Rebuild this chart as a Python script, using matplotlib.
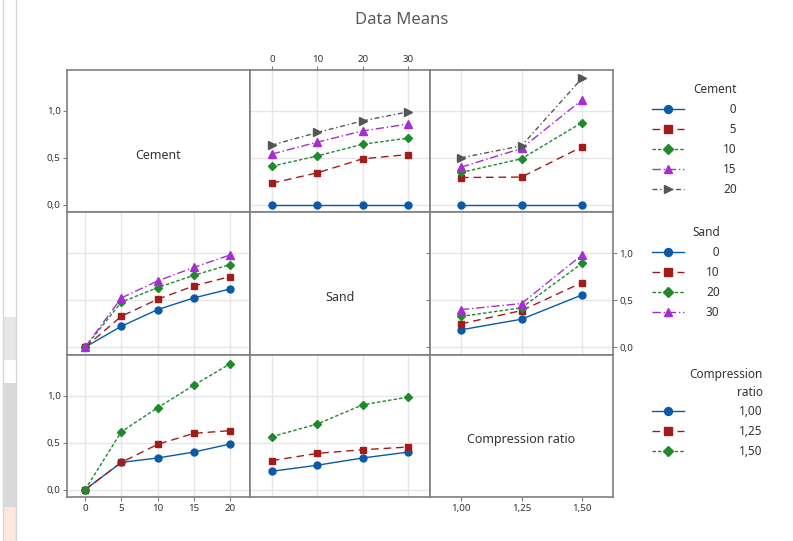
import matplotlib
matplotlib.use('Agg')
import matplotlib.pyplot as plt
from matplotlib.lines import Line2D
from matplotlib.patches import Rectangle
from matplotlib.transforms import blended_transform_factory

plt.rcParams['font.family'] = ['Noto Sans', 'DejaVu Sans']

# factor levels
cement_levels = [0, 5, 10, 15, 20]
sand_levels = [0, 10, 20, 30]
ratio_levels = [1.00, 1.25, 1.50]

cement_ticklabels = ['0', '5', '10', '15', '20']
sand_ticklabels = ['0', '10', '20', '30']
ratio_ticklabels = ['1,00', '1,25', '1,50']

# data means: one row per trace level, one column per x level
cement_by_sand = [
    [0.0, 0.0, 0.0, 0.0],
    [0.23, 0.34, 0.49, 0.535],
    [0.41, 0.52, 0.645, 0.71],
    [0.54, 0.667, 0.787, 0.86],
    [0.635, 0.77, 0.894, 0.99],
]
cement_by_ratio = [
    [0.0, 0.0, 0.0],
    [0.29, 0.295, 0.617],
    [0.344, 0.49, 0.876],
    [0.40, 0.60, 1.117],
    [0.50, 0.628, 1.348],
]
sand_by_cement = [
    [0.0, 0.223, 0.40, 0.525, 0.62],
    [0.0, 0.33, 0.51, 0.653, 0.752],
    [0.0, 0.48, 0.635, 0.766, 0.88],
    [0.0, 0.525, 0.706, 0.85, 0.983],
]
sand_by_ratio = [
    [0.185, 0.298, 0.557],
    [0.249, 0.39, 0.688],
    [0.327, 0.42, 0.894],
    [0.40, 0.465, 0.983],
]
ratio_by_cement = [
    [0.0, 0.29, 0.337, 0.40, 0.486],
    [0.0, 0.29, 0.482, 0.60, 0.628],
    [0.0, 0.617, 0.872, 1.113, 1.34],
]
ratio_by_sand = [
    [0.195, 0.26, 0.337, 0.40],
    [0.309, 0.386, 0.425, 0.454],
    [0.564, 0.699, 0.904, 0.986],
]

factor_names = ['Cement', 'Sand', 'Compression ratio']
levels = [cement_levels, sand_levels, ratio_levels]
ticklabels = [cement_ticklabels, sand_ticklabels, ratio_ticklabels]
panels = {
    (0, 1): cement_by_sand, (0, 2): cement_by_ratio,
    (1, 0): sand_by_cement, (1, 2): sand_by_ratio,
    (2, 0): ratio_by_cement, (2, 1): ratio_by_sand,
}

# minitab-ish line styles for trace levels
COLORS = ['#0B5AA8', '#A31C1C', '#1F8A2C', '#A52ED0', '#555555']
MARKERS = ['o', 's', 'D', '^', '>']
MSIZES = [5, 5, 4.3, 5.5, 5.5]
DASHES = ['-', (0, (5.5, 3.5)), (0, (2.5, 1.5)), (0, (6, 2, 1, 2)),
          (0, (3.5, 2, 1, 2))]

XLIMS = [(-2.5, 22.75), (-4.8, 34.8), (0.872, 1.628)]
YLIM = (-0.082, 1.436)
EDGE = '#7F7F7F'
TXT = '#333333'

W, H = 793, 541
fig = plt.figure(figsize=(W / 100, H / 100), dpi=100)
gs = fig.add_gridspec(3, 3, left=67 / W, right=613 / W, top=1 - 70 / H,
                      bottom=1 - 497.3 / H, wspace=0, hspace=0,
                      width_ratios=[183, 180, 183])

def style_axis(ax, col, diag):
    ax.set_xlim(*XLIMS[col])
    ax.set_ylim(*YLIM)
    ax.set_xticks(levels[col], labels=ticklabels[col])
    ax.set_yticks([0, 0.5, 1.0], labels=['0,0', '0,5', '1,0'])
    ax.tick_params(which='both', length=0, labelbottom=False, labelleft=False,
                   labelsize=7, labelcolor=TXT, color=EDGE, pad=1.5)
    for sp in ax.spines.values():
        sp.set_color(EDGE)
        sp.set_linewidth(1.2)
    if not diag:
        ax.grid(True, color='#E6E6E6', lw=1)
        ax.set_axisbelow(True)

axes = {}
for r in range(3):
    for c in range(3):
        ax = fig.add_subplot(gs[r, c])
        axes[(r, c)] = ax
        style_axis(ax, c, r == c)
        if r == c:
            tr = blended_transform_factory(ax.transAxes, ax.transData)
            ax.text(0.5, 0.53, factor_names[r], transform=tr,
                    ha='center', va='center', fontsize=9, color=TXT)
            continue
        xs = levels[c]
        for i, ys in enumerate(panels[(r, c)]):
            ax.plot(xs, ys, color=COLORS[i], ls=DASHES[i], lw=1,
                    marker=MARKERS[i], ms=MSIZES[i], mec=COLORS[i])

# tick labels alternate around the matrix
axes[(0, 0)].tick_params(axis='y', left=True, labelleft=True, length=3)
axes[(2, 0)].tick_params(axis='y', left=True, labelleft=True, length=3)
axes[(0, 1)].tick_params(axis='x', top=True, labeltop=True, length=3)
axes[(1, 2)].tick_params(axis='y', right=True, labelright=True, length=3)
axes[(2, 0)].tick_params(axis='x', bottom=True, labelbottom=True, length=3)
axes[(2, 2)].tick_params(axis='x', bottom=True, labelbottom=True, length=3)

fig.text(402 / W, 1 - 20 / H, 'Data Means', ha='center', va='center',
         fontsize=12, color='#595959')

# legends, one per trace factor
def add_legend(title, labels, top_px, textpad):
    handles = [Line2D([], [], color=COLORS[i], ls=DASHES[i], lw=1,
                      marker=MARKERS[i], ms=MSIZES[i] + 0.7)
               for i in range(len(labels))]
    leg = fig.legend(handles, labels, title=title, loc='upper left',
                     bbox_to_anchor=(652 / W, 1 - top_px / H),
                     frameon=False, fontsize=8.5, title_fontsize=8.5,
                     alignment='right', borderpad=0, borderaxespad=0,
                     handlelength=2.67, handletextpad=textpad,
                     labelspacing=0.59)
    for t in leg.get_texts():
        t.set_color(TXT)
    leg.get_title().set_color(TXT)
    leg.get_title().set_multialignment('right')
    leg.get_title().set_linespacing(1.45)
    return leg

fs = '\u2007'
add_legend('Cement', [fs + '0', fs + '5', '10', '15', '20'], 83, 3.35)
add_legend('Sand', [fs + '0', '10', '20', '30'], 226, 1.9)
add_legend('Compression\nratio', ratio_ticklabels, 368, 4.7)

# window edge left over from the screenshot
for xp in (3, 16):
    fig.add_artist(Line2D([xp / W, xp / W], [0, 1], transform=fig.transFigure,
                          color='#D6D6D6', lw=1))
for y0, y1, col in [(317, 360, '#E6E6E6'), (383, 507, '#D9D9D9'),
                    (507, 541, '#FDE6DA')]:
    fig.add_artist(Rectangle((4 / W, 1 - y1 / H), 12 / W, (y1 - y0) / H,
                             transform=fig.transFigure, color=col, lw=0))

fig.savefig('out.png', dpi=100)
